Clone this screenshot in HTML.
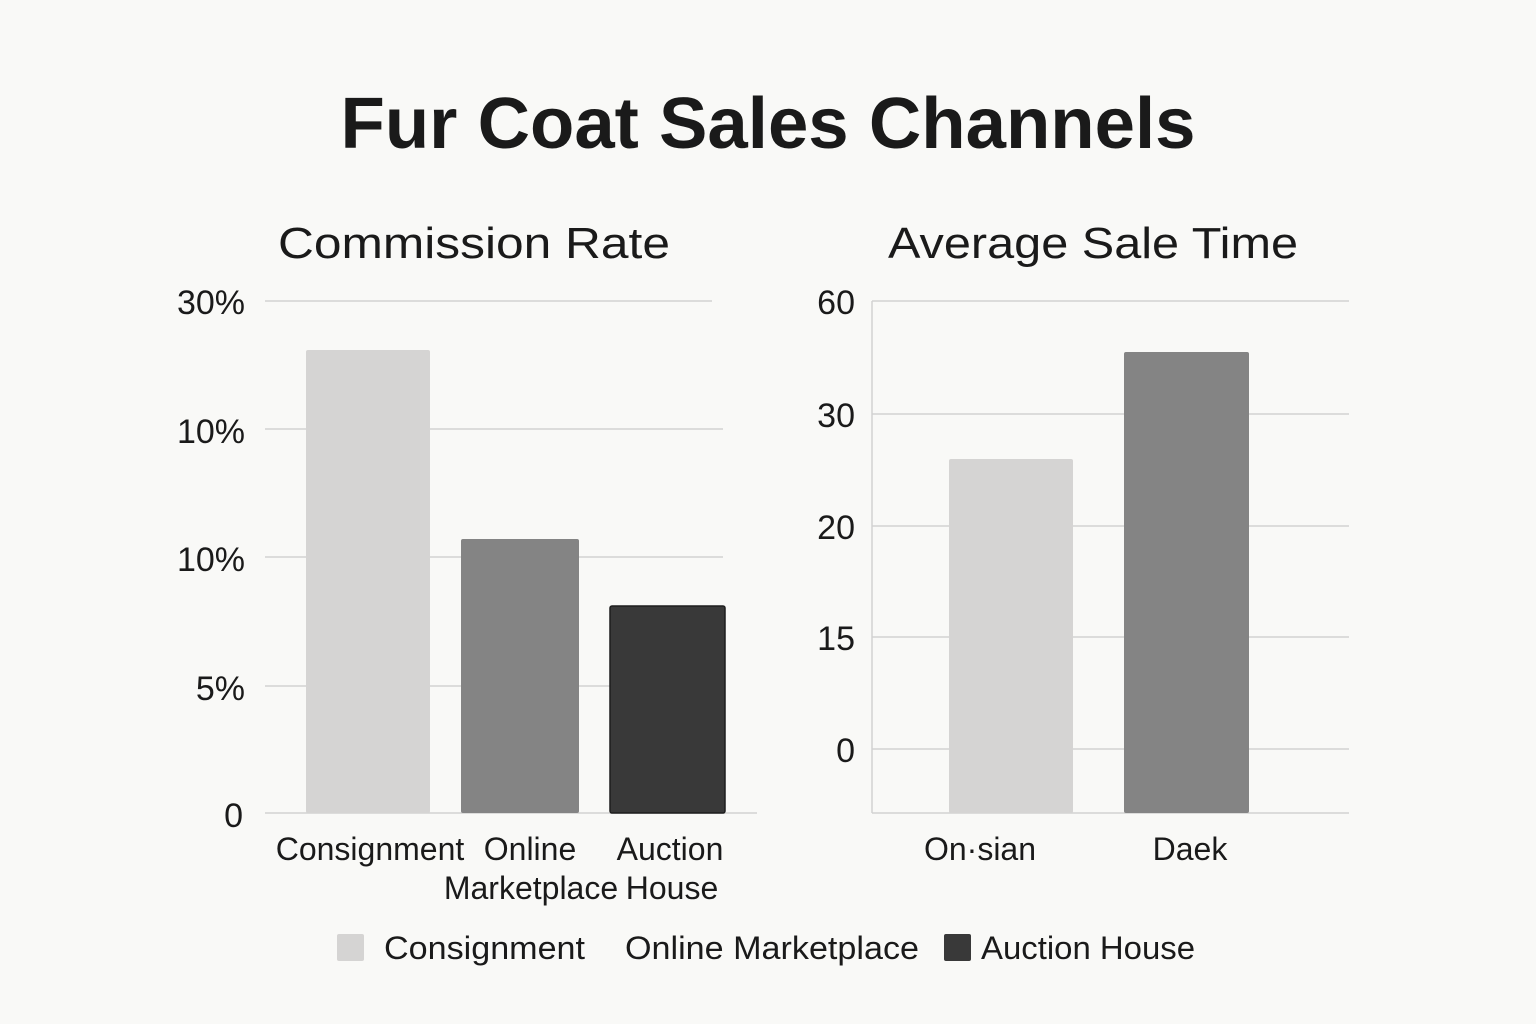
<!DOCTYPE html>
<html><head><meta charset="utf-8"><style>
html,body{margin:0;padding:0;background:#f9f9f7;}
svg{display:block;}
text{font-family:"Liberation Sans","DejaVu Sans",sans-serif;fill:#1a1a1a;}
</style></head><body>
<svg width="1536" height="1024" viewBox="0 0 1536 1024">
<rect width="1536" height="1024" fill="#f9f9f7"/>
<text x="768" y="148" font-size="72" font-weight="bold" text-anchor="middle" textLength="855" lengthAdjust="spacingAndGlyphs">Fur Coat Sales Channels</text>
<text x="474" y="258" font-size="44" text-anchor="middle" textLength="392" lengthAdjust="spacingAndGlyphs">Commission Rate</text>
<text x="1093" y="258" font-size="44" text-anchor="middle" textLength="410" lengthAdjust="spacingAndGlyphs">Average Sale Time</text>
<g stroke="#d2d2d2" stroke-width="1.5">
<line x1="265" y1="301" x2="712" y2="301"/>
<line x1="265" y1="429" x2="723" y2="429"/>
<line x1="265" y1="557" x2="723" y2="557"/>
<line x1="265" y1="686" x2="610" y2="686"/>
<line x1="265" y1="813" x2="757" y2="813"/>
<line x1="872" y1="301" x2="1349" y2="301"/>
<line x1="872" y1="414" x2="1349" y2="414"/>
<line x1="872" y1="526" x2="1349" y2="526"/>
<line x1="872" y1="637" x2="1349" y2="637"/>
<line x1="872" y1="749" x2="1349" y2="749"/>
<line x1="872" y1="813" x2="1349" y2="813"/>
<line x1="872" y1="301" x2="872" y2="813"/>
</g>
<g font-size="34" text-anchor="end">
<text x="245" y="314">30%</text><text x="245" y="443">10%</text><text x="245" y="571">10%</text><text x="245" y="700">5%</text><text x="243" y="827">0</text>
<text x="855" y="314">60</text><text x="855" y="427">30</text><text x="855" y="539">20</text><text x="855" y="650">15</text><text x="855" y="762">0</text>
</g>
<rect x="306" y="350" width="124" height="463" fill="#d5d4d3" rx="2"/>
<rect x="461" y="539" width="118" height="274" fill="#848484" rx="2"/>
<rect x="610" y="606" width="115" height="207" fill="#393939" stroke="#1e1e1e" stroke-width="1.5" rx="2"/>
<rect x="949" y="459" width="124" height="354" fill="#d5d4d3" rx="2"/>
<rect x="1124" y="352" width="125" height="461" fill="#848484" rx="2"/>
<g font-size="32" text-anchor="middle">
<text x="370" y="860">Consignment</text>
<text x="530" y="860">Online</text>
<text x="670" y="860">Auction</text>
<text x="531" y="899">Marketplace</text>
<text x="672" y="899">House</text>
<text x="980" y="860">On·sian</text>
<text x="1190" y="860">Daek</text>
</g>
<rect x="337" y="934" width="27" height="27" fill="#d5d4d3" rx="2"/>
<rect x="944" y="934" width="27" height="27" fill="#393939" rx="2"/>
<g font-size="32">
<text x="384" y="959" textLength="201" lengthAdjust="spacingAndGlyphs">Consignment</text>
<text x="625" y="959" textLength="294" lengthAdjust="spacingAndGlyphs">Online Marketplace</text>
<text x="981" y="959" textLength="214" lengthAdjust="spacingAndGlyphs">Auction House</text>
</g>
</svg>
</body></html>
